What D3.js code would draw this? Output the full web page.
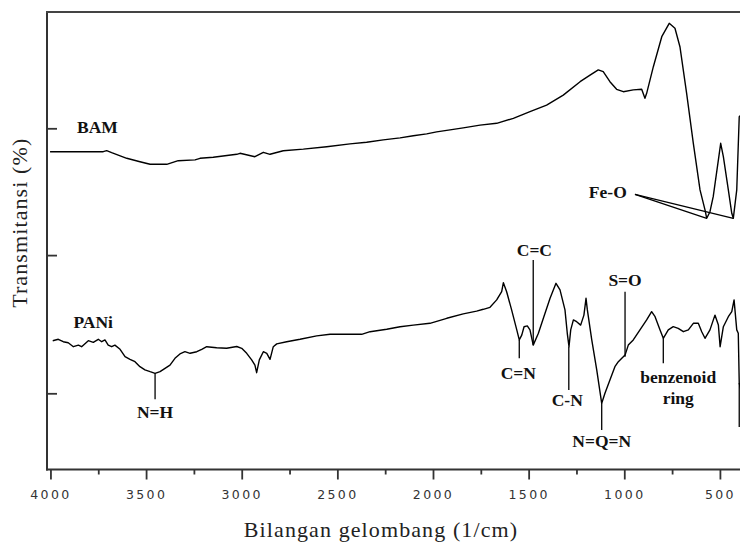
<!DOCTYPE html>
<html><head><meta charset="utf-8">
<script src="https://cdn.jsdelivr.net/npm/d3@7"></script>
<style>body{margin:0;background:#fff} svg{display:block}</style>
</head><body>
<svg id="chart" width="740" height="542"></svg>
<script>
// ---- data (wavenumber in 1/cm, transmittance in arbitrary units) ----
const bamWavenumber = [4002,3724,3706,3680,3601,3532,3479,3392,3332,3244,3218,3149,3026,3009,2931,2887,2852,2783,2678,2556,2434,2347,2260,2172,2103,2033,1981,1911,1842,1754,1667,1580,1493,1406,1319,1231,1179,1136,1110,1075,1040,1005,953,909,892,883,848,804,765,735,709,674,639,604,578,569,552,535,508,496,482,456,438,430,412,399,390];
const bamValue = [79.45,79.45,79.7,79.2,77.8,76.95,76.3,76.3,77.2,77.4,77.8,78.05,78.8,79.05,78.2,79.3,78.8,79.7,80.1,80.7,81.4,81.8,82.4,82.9,83.45,83.9,84.4,84.9,85.4,86.1,86.55,87.8,89.45,91.1,93.6,96.95,98.6,99.9,99.45,96.95,95.05,94.45,94.9,95.05,92.8,94.05,100.7,108.2,111.55,110.3,105.7,94.05,81.55,69.9,64.9,62.8,64.45,68.2,77.4,81.55,78.2,69.9,64.05,62.8,69.9,88.2,88.6];

const paniWavenumber = [3988,3959,3933,3907,3880,3854,3837,3802,3776,3750,3732,3715,3698,3680,3663,3636,3610,3584,3558,3532,3506,3479,3453,3427,3401,3375,3349,3323,3297,3270,3235,3209,3183,3131,3079,3026,3000,2974,2948,2931,2922,2908,2887,2869,2852,2835,2817,2765,2695,2608,2538,2373,2329,2242,2172,2103,2016,1928,1842,1772,1737,1702,1667,1641,1632,1615,1589,1562,1549,1536,1524,1507,1493,1476,1449,1423,1388,1357,1336,1310,1298,1289,1280,1266,1249,1228,1211,1200,1193,1170,1144,1118,1101,1075,1049,1031,1013,996,979,953,918,883,857,839,813,796,770,744,718,691,665,639,613,595,578,552,526,508,499,482,456,438,426,412,404,399,385];
const paniValue = [32.2,32.55,31.95,31.7,30.7,31.1,30.7,32.2,31.8,32.55,31.95,32.4,31.1,30.7,31.1,30.05,28.2,27.55,26.95,25.7,24.9,24.45,24.05,24.45,25.3,26.1,27.8,28.9,29.45,29.05,29.45,30.05,30.7,30.45,30.3,30.75,30.3,29.05,27.4,26.1,24.2,27.4,29.45,29.05,27.55,30.7,31.4,31.95,32.55,33.4,33.8,33.8,34.45,35.05,35.7,36.1,36.55,37.8,38.9,39.6,40.05,40.55,42.4,44.45,46.7,44.45,39.9,34.9,32.4,33.6,35.7,35.9,34.9,31.1,34.05,37.8,42.8,46.55,44.9,39.9,34.05,30.7,34.9,37.4,36.95,36.1,38.6,42.8,39.9,32.4,24.9,16.55,19.05,22.4,25.7,26.95,27.8,28.6,31.1,32.4,34.9,37.4,39.45,38.2,34.9,32.8,34.9,35.7,35.3,34.45,34.9,36.55,36.55,34.45,32.8,34.9,38.6,36.1,30.7,35.7,38.2,39.45,42.4,34.9,34.05,21.6,18.6];

const xMajorTicks = [4000,3500,3000,2500,2000,1500,1000,500];
const xMinorTicks = [3750,3250,2750,2250,1750,1250,750];
const yTicks = [19.05,53.6,85.3];

const seriesNames = ["BAM","PANi"];
const seriesNameAt = [[3861,84.1],[3880,35.4]];

// peak annotations: label lines, label position, leader line (wavenumber, from value, to value)
const peakText = [["N=H"],["C=C"],["C=N"],["C-N"],["N=Q=N"],["S=O"],["benzenoid","ring"],[]];
const peakLabelAt = [[3453,12.9],[1470,53.4],[1554,22.75],[1298,15.9],[1118,5.75],[996,45.9],[718,21.75],[399,0]];
const peakLine = [[3453,24.05,17.55],[1476,31.1,52.4],[1549,32.4,27.8],[1290,30.7,19.9],[1118,16.55,9.9],[996,44.45,28.2],[796,32.8,26.55],[399,21.6,10.6]];

const feoText = "Fe-O";
const feoLabelAt = [987,67.9];
const feoLines = [[944,68.8,569,62.8],[944,68.8,430,62.8]];

const xTitle = "Bilangan gelombang (1/cm)";
const yTitle = "Transmitansi (%)";

// ---- chart ----
const svg = d3.select("#chart");
const L = 47, R = 740, T = 12, B = 469.5;
const x = d3.scaleLinear().domain([4018, 395]).range([L, R]);
const y = d3.scaleLinear().domain([0, 114.375]).range([B, T]);
const serif = "'Liberation Serif','Times New Roman',serif";

svg.append("clipPath").attr("id","clip").append("rect")
  .attr("x",L).attr("y",T).attr("width",R-L).attr("height",B-T);

// x axis major
const gx = svg.append("g").attr("transform",`translate(0,${B})`)
  .call(d3.axisBottom(x).tickValues(xMajorTicks).tickSize(10).tickPadding(11).tickFormat(d3.format("d")));
gx.select(".domain").remove();
gx.selectAll(".tick line").attr("stroke","#333").attr("stroke-width",1.8);
gx.selectAll(".tick text").attr("fill","#333").attr("font-family","'DejaVu Sans',Verdana,sans-serif")
  .attr("font-size",12.5).style("letter-spacing","2.4px");
const gxm = svg.append("g").attr("transform",`translate(0,${B})`)
  .call(d3.axisBottom(x).tickValues(xMinorTicks).tickSize(5).tickFormat(""));
gxm.select(".domain").remove();
gxm.selectAll(".tick line").attr("stroke","#333").attr("stroke-width",1.8);

// y axis
const gy = svg.append("g").attr("transform",`translate(${L},0)`)
  .call(d3.axisLeft(y).tickValues(yTicks).tickSize(-10).tickFormat(""));
gy.select(".domain").remove();
gy.selectAll(".tick line").attr("stroke","#333").attr("stroke-width",1.8);

// frame lines
svg.append("line").attr("x1",L).attr("x2",L).attr("y1",T).attr("y2",B+1)
  .attr("stroke","#333").attr("stroke-width",2);
svg.append("line").attr("x1",L-1).attr("x2",R).attr("y1",B).attr("y2",B)
  .attr("stroke","#333").attr("stroke-width",2);
svg.append("line").attr("x1",L-1).attr("x2",R).attr("y1",T).attr("y2",T)
  .attr("stroke","#444").attr("stroke-width",1.8);

// spectra
const line = d3.line().x(d => x(d[0])).y(d => y(d[1]));
const plot = svg.append("g").attr("clip-path","url(#clip)");
[[bamWavenumber,bamValue],[paniWavenumber,paniValue]].forEach(([ws,vs]) => {
  plot.append("path").datum(ws.map((w,i)=>[w,vs[i]])).attr("d",line)
    .attr("fill","none").attr("stroke","#000").attr("stroke-width",1.4)
    .attr("stroke-linejoin","round");
});

// leader lines
peakLine.forEach(([w,v1,v2]) => {
  plot.append("line").attr("x1",x(w)).attr("x2",x(w)).attr("y1",y(v1)).attr("y2",y(v2))
    .attr("stroke","#000").attr("stroke-width",1.3);
});
feoLines.forEach(([w1,v1,w2,v2]) => {
  plot.append("line").attr("x1",x(w1)).attr("y1",y(v1)).attr("x2",x(w2)).attr("y2",y(v2))
    .attr("stroke","#000").attr("stroke-width",1.3);
});

// labels
const lab = svg.append("g").attr("font-family",serif).attr("font-weight","bold")
  .attr("font-size",17.5).attr("fill","#111");
seriesNames.forEach((s,i) => {
  lab.append("text").attr("x",x(seriesNameAt[i][0])).attr("y",y(seriesNameAt[i][1])).text(s);
});
peakText.forEach((lines,i) => {
  lines.forEach((t,j) => {
    lab.append("text").attr("x",x(peakLabelAt[i][0])).attr("y",y(peakLabelAt[i][1]) + j*21)
      .attr("text-anchor","middle").text(t);
  });
});
lab.append("text").attr("x",x(feoLabelAt[0])).attr("y",y(feoLabelAt[1]))
  .attr("text-anchor","end").text(feoText);

// axis titles
svg.append("text").attr("x",381).attr("y",537).attr("text-anchor","middle")
  .attr("font-family",serif).attr("font-size",22).attr("fill","#222")
  .style("letter-spacing","1.1px").text(xTitle);
svg.append("text").attr("transform",`translate(27,${(T+B)/2 - 18}) rotate(-90)`)
  .attr("text-anchor","middle").attr("font-family",serif).attr("font-size",22).attr("fill","#222")
  .style("letter-spacing","1.1px").text(yTitle);
</script>
</body></html>
